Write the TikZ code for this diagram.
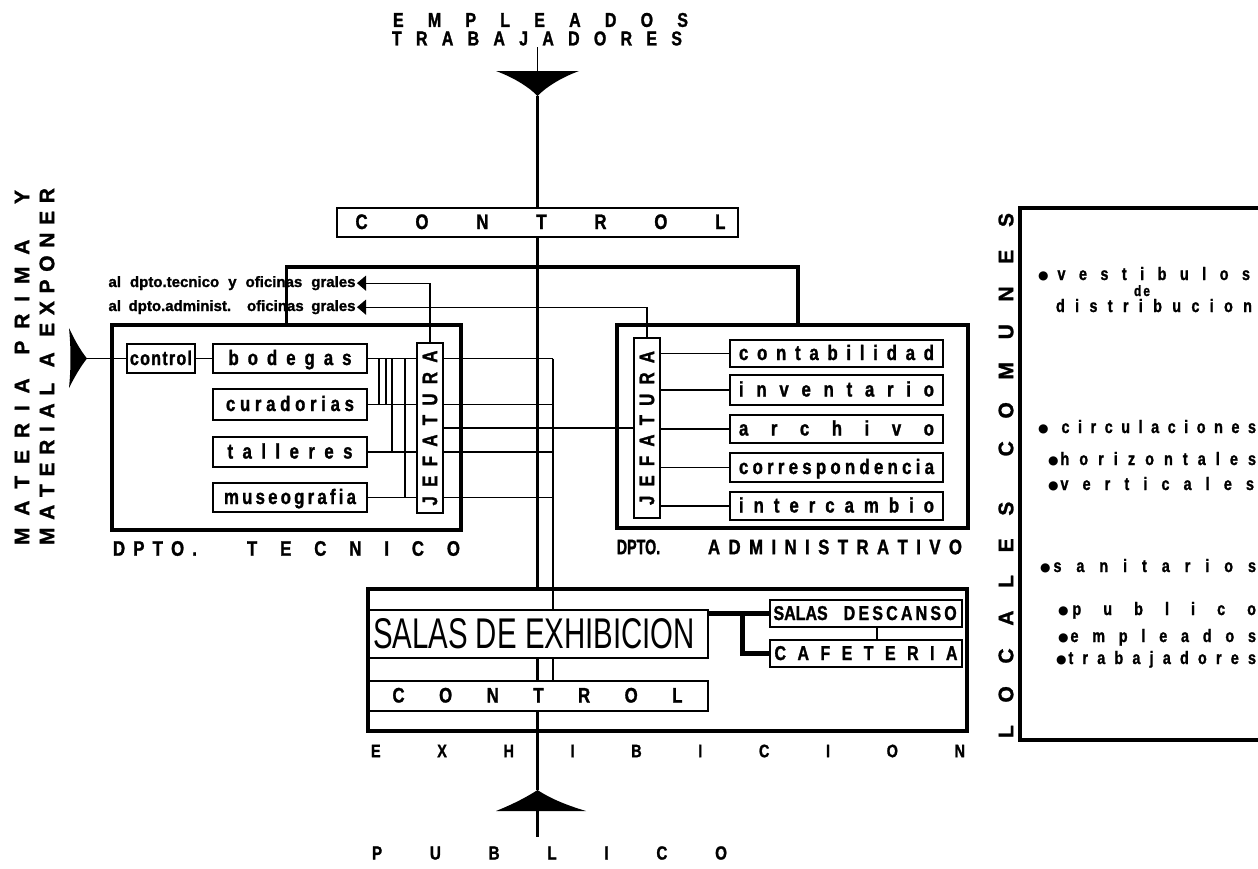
\documentclass[tikz,border=0pt]{standalone}
\usepackage{fontspec}
\usepackage{graphicx}
\usetikzlibrary{arrows.meta}
\newfontfamily\lf[FakeStretch=0.8, BoldFeatures={FakeBold=1.3}]{Liberation Sans}
\newfontfamily\lfw[BoldFeatures={FakeBold=1.3}]{Liberation Sans}
\newfontfamily\djv{DejaVu Sans}
\newcommand\fA[1]{\lf\bfseries\fontsize{#1}{#1}\selectfont}
\newcommand\fB[1]{\lfw\bfseries\fontsize{#1}{#1}\selectfont}
\newcommand\fR[1]{\lfw\fontsize{#1}{#1}\selectfont}
\newcommand\bul{\raisebox{0.6pt}{\djv\fontsize{12}{12}\selectfont ●}}
\makeatletter
\def\lsp#1{\lsp@#1\@nil}
\def\lsp@#1{\ifx#1\@nil\else #1\expandafter\lsp@@\fi}
\def\lsp@@#1{\ifx#1\@nil\else\hfill\ifx#1*\else#1\fi\expandafter\lsp@@\fi}
\makeatother
\tikzset{
  every node/.style={inner sep=0pt, outer sep=0pt},
  rbox/.style={draw, line width=1.3pt, inner sep=0pt, text height=14pt, text depth=1pt},
  jbox/.style={draw, line width=1.3pt, inner sep=0pt},
  dept/.style={draw, line width=3.4pt, inner sep=0pt},
  ln/.style={line width=1.1pt},
  thk/.style={line width=3pt},
  dline/.style={line width=3.4pt},
  xthk/.style={line width=5pt},
  arr/.style={ln, -{Triangle[length=9pt,width=15pt]}},
}
\begin{document}
\begin{tikzpicture}[x=1pt,y=-1pt]
\useasboundingbox[fill=white] (0,0) rectangle (1258,868);

% ---- top: empleados / trabajadores ----
\node[font=\fA{20}] (emp) at (540.5,20) {\makebox[295pt]{\lsp{EMPLEADOS}}};
\node[font=\fA{20}] (trab) at (537,38.5) {\makebox[290pt]{\lsp{TRABAJADORES}}};
\coordinate (ctop) at (537.5,47);
\coordinate (f1b) at (537.5,72);
\coordinate (f1t) at (537.5,96);
\fill (496,71) -- (579,71) .. controls (560,78) and (545,88) .. (f1t) .. controls (530,88) and (515,78) .. (496,71) -- cycle;
\draw[ln] (ctop) -- (f1b);

% ---- top control ----
\node[rbox, minimum width=401pt, minimum height=29pt, font=\fA{21}] (ctl1) at (537.5,222.5)
  {\hspace{6pt}\makebox[370pt]{\lsp{CONTROL}}};

% ---- department boxes ----
\node[dept, minimum width=349pt, minimum height=205pt] (tdept) at (286.5,427.5) {};
\node[dept, minimum width=351pt, minimum height=203pt] (adept) at (792.5,426.5) {};
\coordinate (adj) at (798,325);

% ---- technical department ----
\node[rbox, minimum width=68pt, minimum height=29pt, font=\fA{20}] (ctlA) at (161,358.5) {\makebox[62pt]{\lsp{control}}};
\node[rbox, minimum width=154pt, minimum height=29pt, font=\fA{21}] (bod) at (290,358.5) {\makebox[123pt]{\lsp{bodegas}}};
\node[rbox, minimum width=154pt, minimum height=31pt, font=\fA{21}] (cur) at (290,404.5) {\makebox[128pt]{\lsp{curadorias}}};
\node[rbox, minimum width=154pt, minimum height=30pt, font=\fA{21}] (tal) at (290,452) {\makebox[125pt]{\lsp{talleres}}};
\node[rbox, minimum width=154pt, minimum height=29pt, font=\fA{21}] (mus) at (290,497.5) {\makebox[132pt]{\lsp{museografia}}};
\node[jbox, minimum width=26pt, minimum height=170pt, font=\fA{21}] (tjef) at (430,428)
  {\rotatebox{90}{\makebox[155pt]{\lsp{JEFATURA}}}};

% ---- administrative department ----
\node[jbox, minimum width=26pt, minimum height=180pt, font=\fA{21}] (ajef) at (647,428)
  {\rotatebox{90}{\makebox[154pt]{\lsp{JEFATURA}}}};
\node[rbox, minimum width=213pt, minimum height=27pt, font=\fA{21}] (con) at (836.5,353.5) {\makebox[195pt]{\lsp{contabilidad}}};
\node[rbox, minimum width=213pt, minimum height=30pt, font=\fA{21}] (inv) at (836.5,390) {\makebox[195pt]{\lsp{inventario}}};
\node[rbox, minimum width=213pt, minimum height=28pt, font=\fA{21}] (arc) at (836.5,429) {\makebox[195pt]{\lsp{archivo}}};
\node[rbox, minimum width=213pt, minimum height=29pt, font=\fA{21}] (cor) at (836.5,467.5) {\makebox[195pt]{\lsp{correspondencia}}};
\node[rbox, minimum width=213pt, minimum height=28pt, font=\fA{21}] (int) at (836.5,506) {\makebox[195pt]{\lsp{intercambio}}};

% ---- department labels ----
\node[font=\fA{21}] (dt1) at (155,548.5) {\makebox[84pt]{\lsp{DPTO.}}};
\node[font=\fA{21}] (dt2) at (353.5,548.5) {\makebox[213pt]{\lsp{TECNICO}}};
\node[font=\fA{21}] (da1) at (638.5,547) {\scalebox{0.85}[1]{DPTO.}};
\node[font=\fA{21}] (da2) at (835,547) {\makebox[254pt]{\lsp{ADMINISTRATIVO}}};

% ---- labels of the outgoing arrows ----
\node[anchor=base west, font=\fB{15}, inner sep=1.5pt] (t1) at (107,287) {\makebox[247pt][s]{al dpto.tecnico y oficinas grales}};
\node[anchor=base west, font=\fB{15}, inner sep=1.5pt] (t2) at (107,311) {\makebox[247pt][s]{al dpto.administ. oficinas grales}};

% ---- left input ----
\node[rotate=90, font=\fB{21}] (mp1) at (22,367.5) {\makebox[355pt]{\lsp{MATERIA*PRIMA**Y}}};
\node[rotate=90, font=\fB{21}] (mp2) at (47,366.5) {\makebox[357pt]{\lsp{MATERIAL*A*EXPONER}}};
\coordinate (lft) at (87,358.5);
\fill (69,328) .. controls (75,341) and (81,351) .. (lft) .. controls (81,366) and (75,376) .. (69,388) .. controls (71,368) and (71,348) .. (69,328) -- cycle;

% ---- exhibition ----
\node[dept, minimum width=599pt, minimum height=142pt] (exb) at (667.5,660) {};
\node[jbox, minimum width=341pt, minimum height=48pt] (salas) at (537.5,634)
  {\makebox[341pt][l]{\hspace{6pt}\resizebox{322pt}{30pt}{\fR{40}SALAS DE EXHIBICION}}};
\node[rbox, minimum width=341pt, minimum height=30pt, font=\fA{21}] (ctl2) at (537.5,696)
  {\makebox[290pt]{\lsp{CONTROL}}\hspace{12pt}};
\node[rbox, minimum width=192pt, minimum height=27pt, font=\fA{20}] (desc) at (866,613.5)
  {\makebox[185pt][l]{SALAS\hspace{16pt}\makebox[113pt]{\lsp{DESCANSO}}}};
\node[rbox, minimum width=192pt, minimum height=27pt, font=\fA{20}] (caf) at (866,653.5)
  {\makebox[183pt]{\lsp{CAFETERIA}}};
\node[font=\fA{18}] (exh) at (668,751) {\makebox[594pt]{\lsp{EXHIBICION}}};
\coordinate (f2t) at (537.5,790);
\coordinate (f2b) at (537.5,811);
\coordinate (f2e) at (537.5,837);
\fill (496,811) .. controls (516,803) and (530,795) .. (f2t) .. controls (545,795) and (559,803) .. (586,811) -- cycle;
\node[font=\fA{19}] (pub) at (549.5,853) {\makebox[355pt]{\lsp{PUBLICO}}};

% ---- locales comunes ----
\node[rotate=90, font=\fB{21}] (loc) at (1006,475.5) {\makebox[525pt]{\lsp{LOCALES*COMUNES}}};
\draw[line width=3.5pt] (1258,208) -- (1020,208) -- (1020,740) -- (1258,740);
\node[anchor=base west, font=\fA{18}] (i1) at (1038,280) {\makebox[212pt]{\bul\hspace{9pt}\lsp{vestibulos}}};
\node[anchor=base, font=\fA{15}] (i1b) at (1142,296) {d\hspace{2pt}e};
\node[anchor=base west, font=\fA{18}] (i1c) at (1056,312) {\makebox[196pt]{\lsp{distribucion}}};
\node[anchor=base west, font=\fA{18}] (i2) at (1038,433) {\makebox[218pt]{\bul\hspace{13pt}\lsp{circulaciones}}};
\node[anchor=base west, font=\fA{18}] (i3) at (1048,465) {\makebox[208pt]{\bul\hspace{2pt}\lsp{horizontales}}};
\node[anchor=base west, font=\fA{18}] (i4) at (1048,490) {\makebox[206pt]{\bul\hspace{2pt}\lsp{verticales}}};
\node[anchor=base west, font=\fA{18}] (i5) at (1040,572) {\makebox[216pt]{\bul\hspace{3pt}\lsp{sanitarios}}};
\node[anchor=base west, font=\fA{18}] (i6) at (1058,615) {\makebox[198pt]{\bul\hspace{4pt}\lsp{publico}}};
\node[anchor=base west, font=\fA{18}] (i7) at (1058,642) {\makebox[198pt]{\bul\hspace{2pt}\lsp{empleados}}};
\node[anchor=base west, font=\fA{18}] (i8) at (1056,664) {\makebox[200pt]{\bul\hspace{2pt}\lsp{trabajadores}}};

% ---- connectors ----
% central spine
\draw[thk] (f1t) -- (ctl1.north);
\draw[thk] (ctl1.south) -- (ctl1.south |- exb.north);
\draw[thk] (salas.south) -- (ctl2.north);
\draw[thk] (ctl2.south) -- (f2t);
\draw[thk] (f2b) -- (f2e);
% link between departments
\draw[dline] (tdept.north) -- ++(0,-58) -| (adj);
% jefaturas to outgoing arrows
\draw[arr] (tjef.north) |- (t1.east);
\draw[arr] (ajef.north) |- (t2.east);
% input
\draw[ln] (lft) -- (ctlA.west);
\draw[ln] (ctlA.east) -- (bod.west);
% rooms to tech jefatura
\foreach \r in {bod,cur,tal,mus} \draw[ln] (\r.east) -- (tjef.west |- \r.east);
\draw[ln] ([xshift=12pt]bod.east) -- ([xshift=12pt]bod.east |- cur.east);
\draw[ln] ([xshift=19pt]bod.east) -- ([xshift=19pt]bod.east |- cur.east);
\draw[ln] ([xshift=25pt]bod.east) -- ([xshift=25pt]bod.east |- tal.east);
\draw[ln] ([xshift=38pt]bod.east) -- ([xshift=38pt]bod.east |- mus.east);
% tech rows to exhibition
\coordinate (v2) at (553,358.5);
\draw[ln] (tjef.east |- bod.east) -- (v2);
\foreach \r in {cur,tal,mus} \draw[ln] (tjef.east |- \r.east) -- (v2 |- \r.east);
\draw[ln] (v2) -- (v2 |- salas.north);
\draw[ln] (v2 |- salas.south) -- (v2 |- ctl2.north);
% tech jefatura to admin jefatura
\draw[ln] (tjef.east) -- (ajef.west);
% admin rooms
\foreach \r in {con,inv,arc,cor,int} \draw[ln] (ajef.east |- \r.west) -- (\r.west);
% exhibition services
\draw[xthk] (salas.east |- desc.west) -- (desc.west);
\draw[xthk] ([xshift=34pt]salas.east |- desc.west) |- (caf.west);
\draw[ln] ([xshift=11pt]desc.south) -- ([xshift=11pt]desc.south |- caf.north);
\end{tikzpicture}
\end{document}
